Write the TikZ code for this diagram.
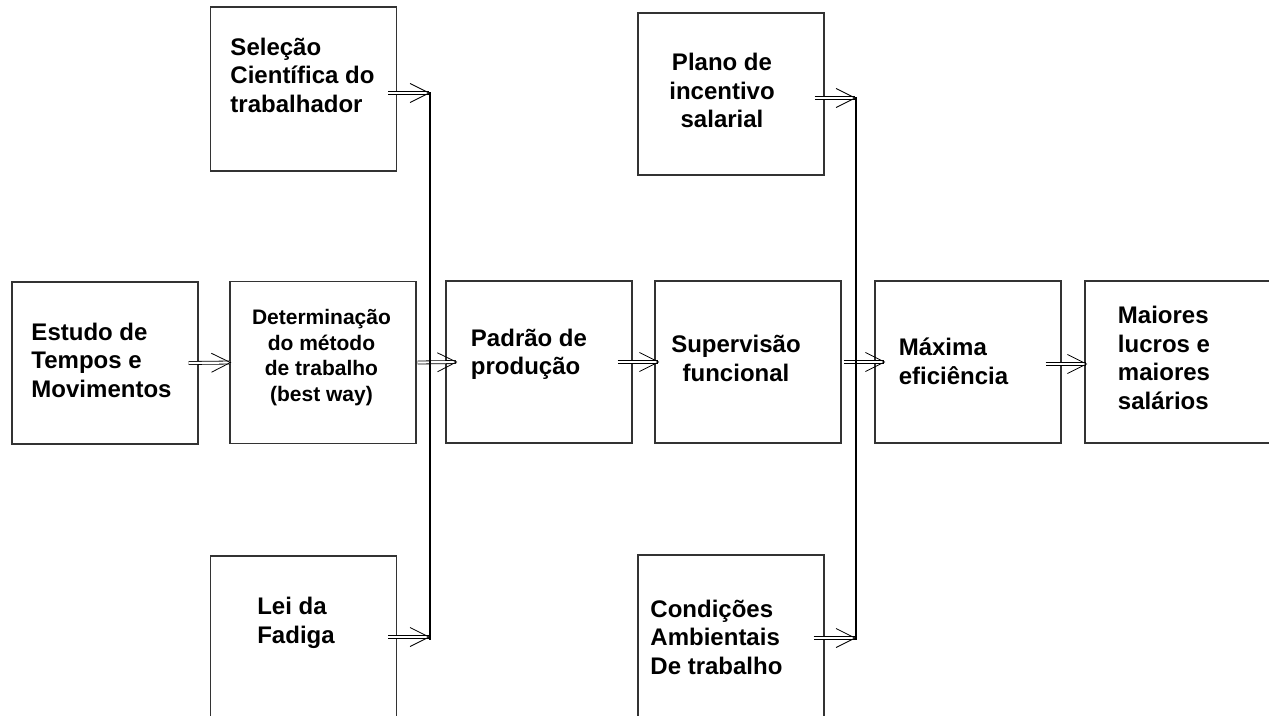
\documentclass[tikz,border=0pt]{standalone}
\usepackage{fontspec}
\setmainfont{Liberation Sans}
\usetikzlibrary{arrows.meta}

\begin{document}
\begin{tikzpicture}[x=1pt,y=-1pt,
    box/.style={draw=black!80,line width=1.4pt,minimum width=186pt,minimum height=162pt,inner sep=0pt},
    txt/.style={font=\fontsize{24}{28.5}\selectfont\bfseries,align=left,inner sep=0pt},
    dbl/.style={draw=black,line width=0.8pt,double=white,double distance=2.2pt,-{Straight Barb[length=19pt,width=19pt]}},
    bus/.style={line width=2.6pt}]
    \useasboundingbox (0,0) rectangle (1269,715);
    % boxes
    \node[box] (est) at (105,363) {};
    \node[box] (det) at (323,362.5) {};
    \node[box] (pad) at (539,362) {};
    \node[box] (sup) at (748,362) {};
    \node[box] (max) at (968,362) {};
    \node[box] (mai) at (1178,362) {};
    \node[box,minimum height=164pt] (sel) at (303.5,89) {};
    \node[box] (lei) at (303.5,637) {};
    \node[box] (pla) at (731,94) {};
    \node[box] (con) at (731,636) {};
    % texts
    \node[txt] (esttxt) at (101.5,360) {Estudo de\\Tempos e\\Movimentos};
    \node[txt,font=\fontsize{21}{25.5}\selectfont\bfseries,align=center] (dettxt) at (321.5,357.7) {Determinação\\do método\\de trabalho\\(best way)};
    \node[txt] (padtxt) at (529,354.5) {Padrão de\\produção};
    \node[txt,align=center] (suptxt) at (736,358.5) {Supervisão\\funcional};
    \node[txt] (maxtxt) at (953.5,361.5) {Máxima\\eficiência};
    \node[txt] (maitxt) at (1164,358) {Maiores\\lucros e\\maiores\\salários};
    \node[txt] (seltxt) at (302.5,75) {Seleção\\Científica do\\trabalhador};
    \node[txt] (leitxt) at (296,623) {Lei da\\Fadiga};
    \node[txt,align=center] (platxt) at (722,90.5) {Plano de\\incentivo\\salarial};
    \node[txt] (contxt) at (716.5,637) {Condições\\Ambientais\\De trabalho};
    % bus ends
    \coordinate (s1) at (430,93);
    \coordinate (l1) at (430,637);
    \coordinate (p1) at (856,98);
    \coordinate (c1) at (856,638);
    % main flow
    \draw[dbl] ([xshift=-10pt]est.east) -- ([xshift=2pt]det.west);
    \draw[dbl] ([xshift=1pt]det.east) -- ([xshift=12pt]pad.west);
    \draw[dbl] ([xshift=-15pt]pad.east) -- ([xshift=5pt]sup.west);
    \draw[dbl] ([xshift=2pt]sup.east) -- ([xshift=11pt]max.west);
    \draw[dbl] ([xshift=-16pt,yshift=-2pt]max.east) -- ([xshift=3pt,yshift=-2pt]mai.west);
    % buses
    \draw[bus] ([yshift=1pt]s1) -- ([yshift=-3pt]l1);
    \draw[bus] ([yshift=1pt]p1) -- ([yshift=-2pt]c1);
    \draw[dbl] ([xshift=-9pt]sel.east |- s1) -- (s1);
    \draw[dbl] ([xshift=-9pt]lei.east |- l1) -- (l1);
    \draw[dbl] ([xshift=-10pt]pla.east |- p1) -- (p1);
    \draw[dbl] ([xshift=-11pt]con.east |- c1) -- (c1);
\end{tikzpicture}
\end{document}
